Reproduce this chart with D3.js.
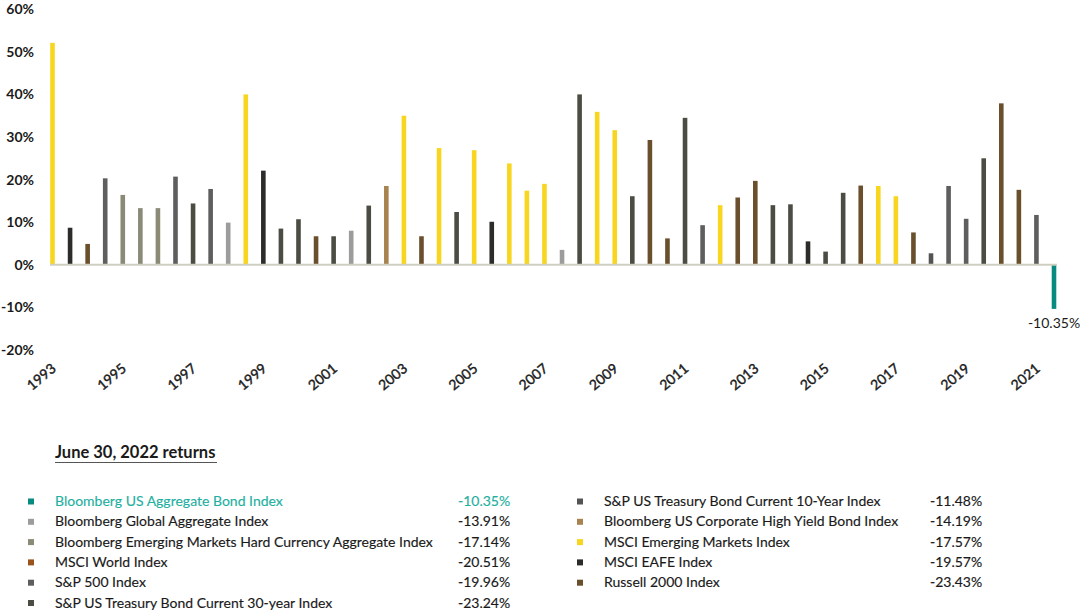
<!DOCTYPE html>
<html>
<head>
<meta charset="utf-8">
<script src="https://cdn.jsdelivr.net/npm/d3@7"></script>
<style>
  html, body { margin: 0; padding: 0; background: #fff; }
  svg { display: block; font-family: Lato, "Open Sans", sans-serif; }
</style>
</head>
<body>
<svg id="chart" width="1080" height="612"></svg>
<script>
// half-year periods, 1993 H2 .. 2022 H1
const periods = [
  '1993 H2',
  '1994 H1', '1994 H2', '1995 H1', '1995 H2', '1996 H1', '1996 H2', '1997 H1', '1997 H2',
  '1998 H1', '1998 H2', '1999 H1', '1999 H2', '2000 H1', '2000 H2', '2001 H1', '2001 H2',
  '2002 H1', '2002 H2', '2003 H1', '2003 H2', '2004 H1', '2004 H2', '2005 H1', '2005 H2',
  '2006 H1', '2006 H2', '2007 H1', '2007 H2', '2008 H1', '2008 H2', '2009 H1', '2009 H2',
  '2010 H1', '2010 H2', '2011 H1', '2011 H2', '2012 H1', '2012 H2', '2013 H1', '2013 H2',
  '2014 H1', '2014 H2', '2015 H1', '2015 H2', '2016 H1', '2016 H2', '2017 H1', '2017 H2',
  '2018 H1', '2018 H2', '2019 H1', '2019 H2', '2020 H1', '2020 H2', '2021 H1', '2021 H2',
  '2022 H1'
];

// best performing index per period
const bestIndex = [
  'EM',
  'EAFE', 'R2K', 'SPX', 'EMHC', 'EMHC', 'EMHC', 'SPX', 'T30',
  'SPX', 'GAGG', 'EM', 'EAFE', 'T30', 'T30', 'R2K', 'T30',
  'GAGG', 'T30', 'HY', 'EM', 'R2K', 'EM', 'T30', 'EM',
  'EAFE', 'EM', 'EM', 'EM', 'GAGG', 'T30', 'EM', 'EM',
  'T30', 'R2K', 'R2K', 'T30', 'SPX', 'EM', 'R2K', 'R2K',
  'T30', 'T30', 'EAFE', 'T30', 'T30', 'R2K', 'EM', 'EM',
  'R2K', 'T10', 'SPX', 'SPX', 'T30', 'R2K', 'R2K', 'SPX',
  'AGG'
];

// return of that index over the period (%)
const bestReturn = [
  52.1,
  8.7, 4.9, 20.3, 16.4, 13.3, 13.3, 20.7, 14.4,
  17.8, 9.9, 40.0, 22.1, 8.5, 10.7, 6.7, 6.7,
  8.0, 13.9, 18.5, 35.0, 6.7, 27.4, 12.4, 26.9,
  10.1, 23.8, 17.4, 19.0, 3.5, 40.0, 35.9, 31.6,
  16.1, 29.3, 6.2, 34.5, 9.3, 14.0, 15.8, 19.7,
  14.0, 14.2, 5.5, 3.1, 16.9, 18.6, 18.5, 16.1,
  7.6, 2.7, 18.5, 10.8, 25.0, 37.9, 17.6, 11.7,
  -10.35
];

const yTicks = [-20, -10, 0, 10, 20, 30, 40, 50, 60];
const xTickYears = ['1993', '1995', '1997', '1999', '2001', '2003', '2005', '2007',
  '2009', '2011', '2013', '2015', '2017', '2019', '2021'];

const legendTitle = 'June 30, 2022 returns';
const legendKeys = ['AGG', 'GAGG', 'EMHC', 'WORLD', 'SPX', 'T30',
  'T10', 'HY', 'EM', 'EAFE', 'R2K'];
const legendNames = [
  'Bloomberg US Aggregate Bond Index',
  'Bloomberg Global Aggregate Index',
  'Bloomberg Emerging Markets Hard Currency Aggregate Index',
  'MSCI World Index',
  'S&P 500 Index',
  'S&P US Treasury Bond Current 30-year Index',
  'S&P US Treasury Bond Current 10-Year Index',
  'Bloomberg US Corporate High Yield Bond Index',
  'MSCI Emerging Markets Index',
  'MSCI EAFE Index',
  'Russell 2000 Index'
];
const legendReturns = ['-10.35%', '-13.91%', '-17.14%', '-20.51%', '-19.96%', '-23.24%',
  '-11.48%', '-14.19%', '-17.57%', '-19.57%', '-23.43%'];

const colors = {
  AGG: '#078b81',
  GAGG: '#9c9c9c',
  EMHC: '#8a8a77',
  WORLD: '#9a531c',
  SPX: '#5e5e5e',
  T30: '#4b4d43',
  T10: '#545454',
  HY: '#a8824f',
  EM: '#f8d61f',
  EAFE: '#2c2c2a',
  R2K: '#6a4f2c'
};
const highlightText = '#1fb0a1';
const ink = '#1a1a1a';

const svg = d3.select('#chart');

const x = d3.scalePoint().domain(periods).range([52.5, 1054]);
const y = d3.scaleLinear().domain([-20, 60]).range([350, 9.2]);

// y axis labels
const yAxis = svg.append('g')
  .attr('transform', 'translate(34,0)')
  .call(d3.axisLeft(y).tickValues(yTicks).tickSize(0).tickPadding(0).tickFormat(d => d + '%'));
yAxis.select('.domain').remove();
yAxis.selectAll('text')
  .style('font-family', 'Lato, sans-serif')
  .style('font-size', '14px')
  .style('font-weight', 'bold')
  .attr('fill', ink);

// bars
svg.append('g')
  .selectAll('rect')
  .data(periods)
  .enter()
  .append('rect')
  .attr('x', d => x(d) - 2.3)
  .attr('width', 4.6)
  .attr('y', (d, i) => y(Math.max(0, bestReturn[i])))
  .attr('height', (d, i) => Math.abs(y(bestReturn[i]) - y(0)))
  .attr('fill', (d, i) => colors[bestIndex[i]]);

// zero line
svg.append('line')
  .attr('x1', 50)
  .attr('x2', 1057)
  .attr('y1', y(0))
  .attr('y2', y(0))
  .attr('stroke', '#cfcfc1')
  .attr('stroke-width', 2);

// label on the latest bar
const last = periods.length - 1;
svg.append('text')
  .attr('x', x(periods[last]))
  .attr('y', y(bestReturn[last]) + 19)
  .attr('text-anchor', 'middle')
  .style('font-size', '14px')
  .attr('fill', ink)
  .text(bestReturn[last].toFixed(2) + '%');

// x axis labels (medium weight: regular + thin stroke)
const xAxis = svg.append('g')
  .attr('transform', 'translate(0,370)')
  .call(d3.axisBottom(x)
    .tickValues(xTickYears.map(yr => yr + ' H2'))
    .tickSize(0)
    .tickFormat(d => d.slice(0, 4)));
xAxis.select('.domain').remove();
xAxis.selectAll('text')
  .attr('y', 0)
  .attr('dy', 0)
  .attr('text-anchor', 'end')
  .attr('transform', 'translate(4,0) rotate(-40)')
  .style('font-family', 'Lato, sans-serif')
  .style('font-size', '14px')
  .attr('fill', ink)
  .attr('stroke', ink)
  .attr('stroke-width', 0.4);

// legend
svg.append('text')
  .attr('x', 55)
  .attr('y', 458)
  .style('font-size', '16.5px')
  .style('font-weight', 'bold')
  .attr('fill', ink)
  .text(legendTitle);
svg.append('line')
  .attr('x1', 55)
  .attr('x2', 217)
  .attr('y1', 462.5)
  .attr('y2', 462.5)
  .attr('stroke', '#555')
  .attr('stroke-width', 1.2);

const colX = [28, 577];
const nameX = [55, 604];
const valX = [458, 930];
const rowY = d3.scaleLinear().domain([0, 5]).range([506, 607.5]);
const colOf = i => (i < 6 ? 0 : 1);

const items = svg.append('g')
  .selectAll('g')
  .data(legendKeys)
  .enter()
  .append('g')
  .attr('transform', (d, i) => `translate(0,${rowY(i < 6 ? i : i - 6)})`);

items.append('rect')
  .attr('x', (d, i) => colX[colOf(i)])
  .attr('y', -7.5)
  .attr('width', 6)
  .attr('height', 6)
  .attr('fill', d => colors[d]);

items.append('text')
  .attr('x', (d, i) => nameX[colOf(i)])
  .style('font-size', '14px')
  .attr('fill', (d, i) => (i === 0 ? highlightText : ink))
  .attr('stroke', (d, i) => (i === 0 ? highlightText : ink))
  .attr('stroke-width', 0.15)
  .text((d, i) => legendNames[i]);

items.append('text')
  .attr('x', (d, i) => valX[colOf(i)])
  .style('font-size', '14px')
  .attr('fill', (d, i) => (i === 0 ? highlightText : ink))
  .attr('stroke', (d, i) => (i === 0 ? highlightText : ink))
  .attr('stroke-width', 0.15)
  .text((d, i) => legendReturns[i]);
</script>
</body>
</html>
